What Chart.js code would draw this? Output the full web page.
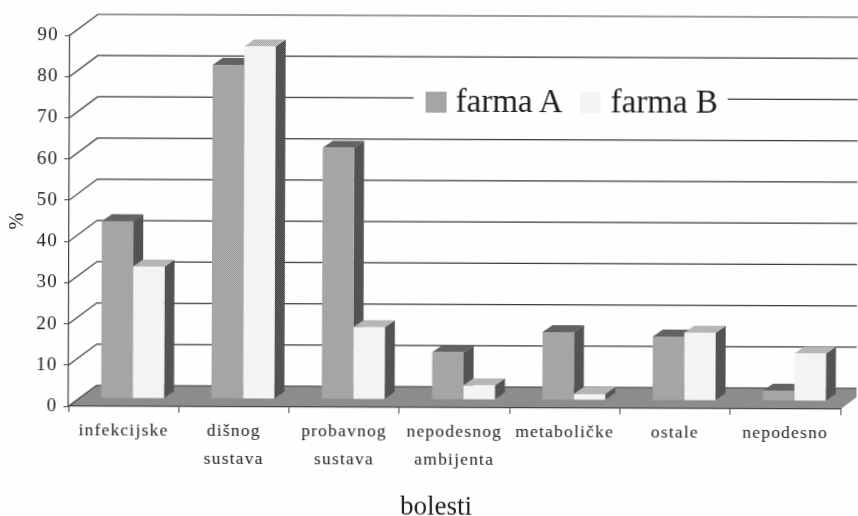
<!DOCTYPE html>
<html>
<head>
<meta charset="utf-8">
<title>bolesti</title>
<script src="https://cdn.jsdelivr.net/npm/chart.js@4/dist/chart.umd.min.js"></script>
<style>
    html, body { margin: 0; padding: 0; background: #fefefe; overflow: hidden; }
    #wrap { position: relative; width: 858px; height: 516px; transform: rotate(0.22deg); transform-origin: 0 0; filter: blur(0.35px); }
    #legend { position: absolute; left: 414px; top: 78px; width: 314px; height: 40px; background: #fefefe; font: 33px "Liberation Serif", serif; color: #1e1e1e; }
    #legend span { position: absolute; top: 1px; line-height: 40px; white-space: nowrap; }
    #legend i { position: absolute; top: 12px; width: 21px; height: 21px; }
    #xTitle { position: absolute; left: 338px; top: 490px; width: 200px; text-align: center; font: 27px/28px "Liberation Serif", serif; color: #1e1e1e; }
</style>
</head>
<body>
<div id="wrap">
    <canvas id="chart" width="858" height="516"></canvas>
    <div id="legend"></div>
    <div id="xTitle">bolesti</div>
</div>
<script>
var categories = ["infekcijske", ["dišnog", "sustava"], ["probavnog", "sustava"], ["nepodesnog", "ambijenta"], "metaboličke", "ostale", "nepodesno"];
var farmaA = [43, 81, 61, 11.5, 16.5, 15.5, 2.5];
var farmaB = [32, 85.5, 17.5, 3.5, 1.5, 16.5, 11.5];
var seriesNames = ["farma A", "farma B"];

var FONT = "'Liberation Serif', serif";
var DEPTH_X = 28, DEPTH_Y = 21;   // floor / back wall offset
var BAR_X = 9, BAR_Y = 8;         // where the bars stand on the floor
var BAR_DX = 10, BAR_DY = 7;      // depth of a bar

// little dither tiles, the original is a scanned print
function tile(c1, c2) {
    var c = document.createElement("canvas");
    c.width = c.height = 2;
    var t = c.getContext("2d");
    t.fillStyle = c1; t.fillRect(0, 0, 2, 2);
    t.fillStyle = c2; t.fillRect(0, 0, 1, 1); t.fillRect(1, 1, 1, 1);
    return c;
}

var ctx = document.getElementById("chart").getContext("2d");
function pattern(c1, c2) { return ctx.createPattern(tile(c1, c2), "repeat"); }

var fillA = pattern("#979797", "#b3b3b3");
var fillB = pattern("#ededed", "#fafafa");
var sideFill = pattern("#3c3c3c", "#6a6a6a");
var topFillA = pattern("#4f4f4f", "#767676");
var topFillB = pattern("#a4a4a4", "#c8c8c8");
var floorFill = pattern("#727272", "#a6a6a6");

var room3d = {
    id: "room3d",
    beforeDraw: function (chart) {
        var c = chart.ctx, a = chart.chartArea, y = chart.scales.y;
        c.letterSpacing = "1.2px";
        var base = y.getPixelForValue(0);

        c.save();
        c.fillStyle = floorFill;
        c.beginPath();
        c.moveTo(a.left, base);
        c.lineTo(a.right, base);
        c.lineTo(a.right + DEPTH_X, base - DEPTH_Y);
        c.lineTo(a.left + DEPTH_X, base - DEPTH_Y);
        c.closePath();
        c.fill();

        c.strokeStyle = "#3a3a3a";
        c.lineWidth = 1.2;
        y.ticks.forEach(function (t) {
            var py = y.getPixelForValue(t.value);
            c.beginPath();
            c.moveTo(a.left, py);
            c.lineTo(a.left + DEPTH_X, py - DEPTH_Y);
            c.lineTo(chart.width, py - DEPTH_Y);
            c.stroke();
        });
        c.restore();
    },
    beforeDatasetsDraw: function (chart) {
        var c = chart.ctx;
        c.save();
        c.translate(BAR_X, -BAR_Y);
        [0, 1].forEach(function (i) {
            chart.getDatasetMeta(i).data.forEach(function (bar) {
                var right = bar.x + bar.width / 2, left = bar.x - bar.width / 2;
                c.fillStyle = sideFill;
                c.beginPath();
                c.moveTo(right, bar.y);
                c.lineTo(right + BAR_DX, bar.y - BAR_DY);
                c.lineTo(right + BAR_DX, bar.base - BAR_DY);
                c.lineTo(right, bar.base);
                c.closePath();
                c.fill();
                c.fillStyle = i === 0 ? topFillA : topFillB;
                c.beginPath();
                c.moveTo(left, bar.y);
                c.lineTo(left + BAR_DX, bar.y - BAR_DY);
                c.lineTo(right + BAR_DX, bar.y - BAR_DY);
                c.lineTo(right, bar.y);
                c.closePath();
                c.fill();
            });
        });
    },
    afterDatasetsDraw: function (chart) {
        chart.ctx.restore();
    }
};

new Chart(ctx, {
    type: "bar",
    data: {
        labels: categories,
        datasets: [
            { label: seriesNames[0], data: farmaA, backgroundColor: fillA, clip: false },
            { label: seriesNames[1], data: farmaB, backgroundColor: fillB, clip: false }
        ]
    },
    options: {
        responsive: false,
        animation: false,
        layout: { padding: { top: 35, right: 16, left: 0, bottom: 0 } },
        categoryPercentage: 0.57,
        barPercentage: 1,
        plugins: { legend: { display: false }, tooltip: { enabled: false } },
        scales: {
            x: {
                afterFit: function (s) { s.height = 110; },
                grid: { drawOnChartArea: false, color: "#444", tickLength: 6 },
                border: { color: "#444", width: 1.2 },
                ticks: { color: "#1e1e1e", font: { family: FONT, size: 17.5, lineHeight: 1.58 }, padding: 5, maxRotation: 0, autoSkip: false }
            },
            y: {
                min: 0,
                max: 90,
                afterFit: function (s) { s.width = 70; },
                grid: { drawOnChartArea: false, color: "#444", tickLength: 5 },
                border: { color: "#444", width: 1.2 },
                ticks: { stepSize: 10, color: "#1e1e1e", font: { family: FONT, size: 19 }, padding: 6 },
                title: { display: true, text: "%", color: "#1e1e1e", font: { family: FONT, size: 20 }, padding: { top: 7, bottom: 0 } }
            }
        }
    },
    plugins: [room3d]
});

// legend sits on top of the gridline like in the original
var legend = document.getElementById("legend");
var swatches = [tile("#979797", "#b3b3b3"), tile("#ededed", "#fafafa")];
var boxLeft = [12, 166], textLeft = [42, 197];
seriesNames.forEach(function (name, i) {
    var box = document.createElement("i");
    box.style.left = boxLeft[i] + "px";
    box.style.backgroundImage = "url(" + swatches[i].toDataURL() + ")";
    legend.appendChild(box);
    var text = document.createElement("span");
    text.style.left = textLeft[i] + "px";
    text.textContent = name;
    legend.appendChild(text);
});
</script>
</body>
</html>
